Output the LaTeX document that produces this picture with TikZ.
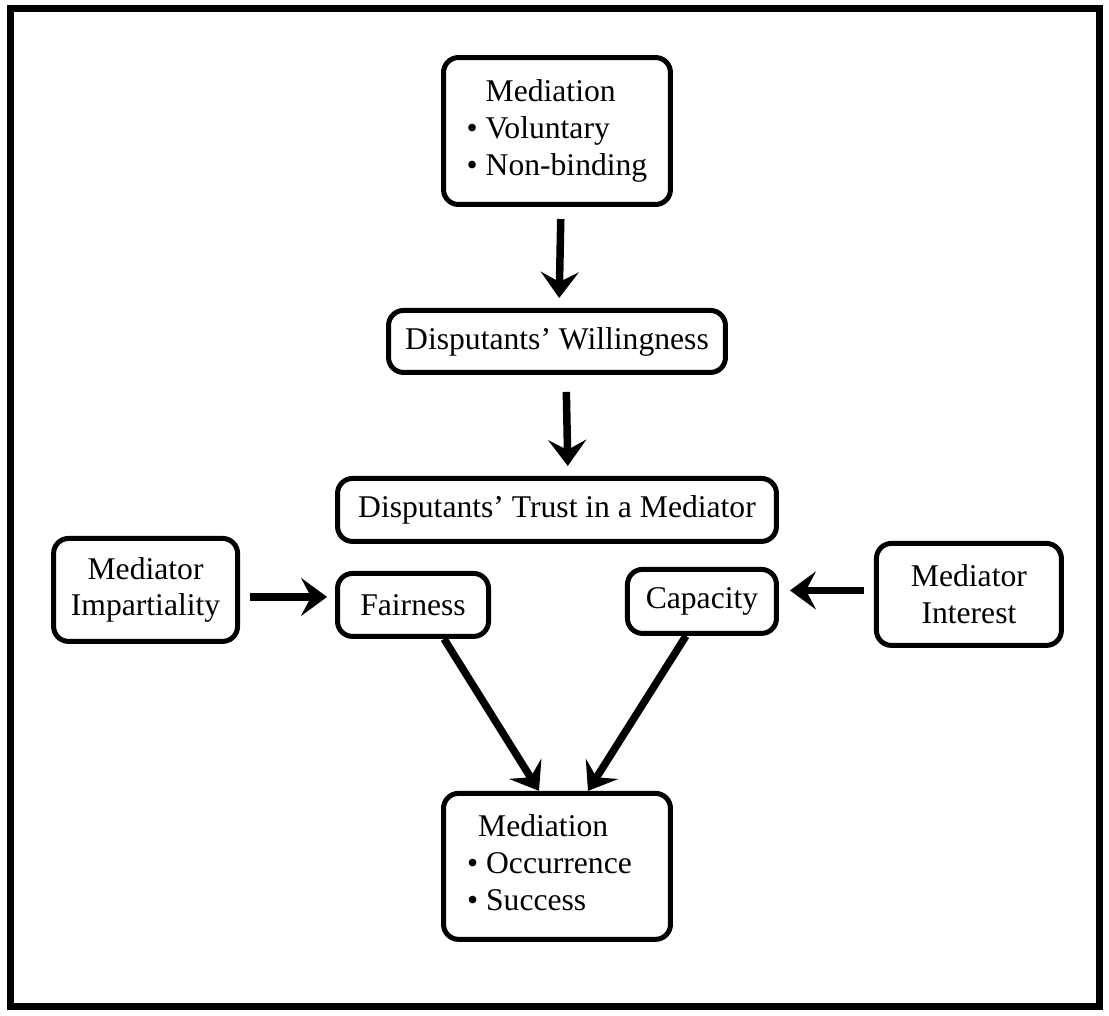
\documentclass[tikz,border=0pt]{standalone}
\usepackage{fontspec}
\setmainfont{Liberation Serif}
\usetikzlibrary{arrows.meta, positioning}
\tikzset{
	->,
	>={Stealth[length=0.52cm, width=0.76cm, inset=0.2cm]},
	node distance=2.02cm,
	every node/.style={font=\fontsize{18}{21}\selectfont},
	box/.style={draw, line width=0.1cm, rounded corners=0.3cm, align=center, inner sep=0pt},
	flow/.style={draw, line width=0.15cm, shorten <=0.24cm, shorten >=0.2cm},
	slant/.style={draw, line width=0.15cm},
}

\begin{document}
\begin{tikzpicture}[x=0.02cm, y=-0.02cm]
		\useasboundingbox (0,0) rectangle (1109,1015);
		\draw[-, line width=0.14cm] (10.5,8.5) rectangle (1099.5,1006.5);

		\node[box, minimum width=4.54cm, minimum height=2.94cm] (med) at (557,131)
			{\begin{tabular}{@{}l@{\ }l@{}} & Mediation\\ \textbullet & Voluntary\\ \textbullet & Non-binding\end{tabular}};
		\node[box, below=of med, minimum width=6.74cm, minimum height=1.24cm] (will) {Disputants' Willingness};
		\node[box, below=of will, minimum width=8.78cm, minimum height=1.26cm] (trust) {Disputants' Trust in a Mediator};
		\node[box, below=0.54cm of trust.south west, anchor=north west, minimum width=3.02cm, minimum height=1.26cm] (fair) {Fairness};
		\node[box, below=0.46cm of trust.south east, anchor=north east, minimum width=2.98cm, minimum height=1.28cm] (cap) {Capacity};
		\node[box, left=1.9cm of fair, yshift=0.3cm, minimum width=3.68cm, minimum height=2.06cm] (imp) {Mediator\\Impartiality};
		\node[box, right=1.9cm of cap, yshift=0.14cm, minimum width=3.7cm, minimum height=2.04cm] (intr) {Mediator\\Interest};
		\node[box, below=4.94cm of trust, minimum width=4.54cm, minimum height=2.92cm] (out)
			{\begin{tabular}{@{}l@{\ }l@{}} \multicolumn{2}{@{}l@{}}{\hspace{0.22cm}Mediation}\\ \textbullet & Occurrence\\ \textbullet & Success\end{tabular}\hspace{0.3cm}};

		\path ([xshift=0.08cm]med.south) edge[flow] ([xshift=0.04cm]will.north)
			([xshift=0.18cm]will.south) edge[flow, shorten <=0.34cm] ([xshift=0.22cm]trust.north)
			([yshift=-0.14cm]imp.east) edge[flow, shorten <=0.2cm, shorten >=0.16cm] ([yshift=0.16cm]fair.west)
			([yshift=0.08cm]intr.west) edge[flow, shorten <=0.2cm, shorten >=0.22cm] ([yshift=0.22cm]cap.east)
			([xshift=0.62cm]fair.south) edge[slant] ([xshift=-0.36cm]out.north)
			([xshift=-0.32cm]cap.south) edge[slant] ([xshift=0.62cm]out.north);
	\end{tikzpicture}
\end{document}
